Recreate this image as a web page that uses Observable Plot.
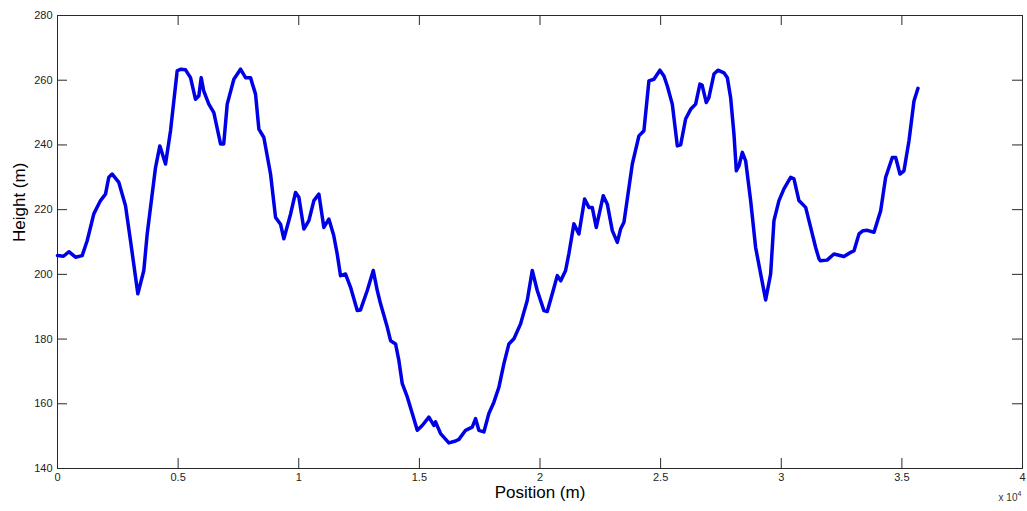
<!DOCTYPE html>
<html>
<head>
<meta charset="utf-8">
<script src="https://cdn.jsdelivr.net/npm/d3@7"></script>
<script src="https://cdn.jsdelivr.net/npm/@observablehq/plot@0.6"></script>
<style>
  html, body { margin: 0; padding: 0; background: #fff; }
  #chart { width: 1027px; height: 511px; }
</style>
</head>
<body>
<div id="chart"></div>
<script>
// Position along the track (m)
const position = [
  0, 250, 470, 746, 1023, 1230, 1505, 1783, 1990, 2127, 2266, 2543, 2819, 3026, 3330, 3578, 3718,
  4063, 4242, 4478, 4685, 4961, 5100, 5307, 5514, 5721, 5860, 5956, 6060, 6273, 6480, 6758, 6890,
  7035, 7310, 7587, 7794, 8000, 8209, 8347, 8554, 8831, 9038, 9245, 9383, 9660, 9867, 10005, 10212,
  10420, 10627, 10834, 11041, 11248, 11450, 11594, 11732, 11940, 12148, 12425, 12560, 12840, 13089,
  13255, 13391, 13668, 13806, 14013, 14150, 14291, 14499, 14706, 14913, 15120, 15394, 15601, 15670,
  15878, 16222, 16500, 16640, 16915, 17191, 17330, 17467, 17674, 17881, 18089, 18296, 18504, 18711,
  18920, 19195, 19471, 19679, 19886, 20163, 20300, 20510, 20717, 20860, 21061, 21200, 21406, 21613,
  21849, 22027, 22166, 22332, 22622, 22790, 22997, 23205, 23341, 23480, 23827, 24101, 24308, 24515,
  24723, 24971, 25137, 25277, 25484, 25692, 25830, 26036, 26244, 26451, 26629, 26720, 26893, 27000,
  27210, 27376, 27625, 27765, 27902, 28040, 28139, 28250, 28386, 28524, 28731, 28938, 29353, 29560,
  29698, 29905, 30111, 30389, 30527, 30733, 31012, 31219, 31426, 31564, 31630, 31900, 32185, 32600,
  32880, 33016, 33223, 33390, 33568, 33845, 34122, 34328, 34604, 34743, 34921, 35087, 35295, 35502,
  35668
];
// Height (m)
const height = [
  205.8, 205.6, 207.0, 205.3, 205.8, 210.4, 218.7, 222.8, 224.8, 230.0, 231.0, 228.4, 221.2, 210.4, 194.0, 201.2, 212.5,
  233.0, 239.7, 234.1, 244.4, 262.9, 263.4, 263.2, 260.8, 254.1, 255.2, 260.8, 256.7, 252.6, 250.0, 240.3, 240.3,
  252.6, 260.3, 263.4, 260.8, 260.8, 255.7, 244.9, 242.3, 231.0, 217.6, 215.5, 211.0, 218.6, 225.3, 223.8, 214.0,
  216.6, 222.8, 224.8, 214.5, 217.1, 212.0, 206.3, 199.6, 200.1, 196.0, 188.8, 189.0, 195.0, 201.2,
  195.0, 190.9, 183.7, 179.5, 178.5, 173.4, 166.2, 162.1, 157.0, 151.8, 153.3, 155.9, 153.3, 154.4,
  150.8, 147.9, 148.5, 149.0, 151.8, 152.8, 155.4, 151.8, 151.3, 157.0, 160.5, 165.1, 172.4, 178.5,
  180.1, 184.7, 191.9, 201.2, 195.0, 188.8, 188.5, 194.0, 199.6, 198.0, 201.2, 206.5, 215.6, 212.5,
  223.3, 220.7, 220.7, 214.5, 224.3, 221.7, 213.5, 209.9, 214.0, 216.1, 234.1, 242.8, 244.4, 259.8,
  260.3, 263.1, 261.3, 258.2, 252.6, 239.7, 240.0, 248.0, 251.0, 252.6, 258.8, 258.5, 253.1, 254.6,
  261.9, 263.1, 262.3, 260.8, 254.6, 243.3, 232.0, 233.6, 237.7, 235.1, 222.8, 208.3, 192.1, 200.1,
  216.6, 222.8, 226.4, 230.0, 229.5, 222.8, 220.7, 214.5, 208.3, 204.8, 204.2, 204.4, 206.3, 205.5,
  206.8, 207.3, 212.5, 213.5, 213.6, 213.0, 219.7, 230.0, 236.1, 236.1, 231.0, 232.0, 241.3, 253.6,
  257.5
];
const xTicks = [0, 5000, 10000, 15000, 20000, 25000, 30000, 35000, 40000];
const yTicks = [140, 160, 180, 200, 220, 240, 260, 280];
const xLabel = "Position (m)";
const yLabel = "Height (m)";
const exponentBase = "x 10";
const exponent = "4";

const data = position.map((p, i) => ({position: p, height: height[i]}));

const W = 1027, H = 511;
const mTop = 15, mBottom = 43, mLeft = 57, mRight = 5;
const innerW = W - mLeft - mRight, innerH = H - mTop - mBottom;
const tickLen = 10;
const axisColor = "#2a2a2a";

const chart = Plot.plot({
  width: W,
  height: H,
  marginTop: mTop,
  marginBottom: mBottom,
  marginLeft: mLeft,
  marginRight: mRight,
  style: {fontFamily: "'Liberation Sans', Arial, sans-serif", fontSize: "11px", color: "#222", background: "#fff"},
  x: {domain: [0, 40000]},
  y: {domain: [140, 280]},
  marks: [
    Plot.frame({stroke: axisColor, strokeWidth: 1}),
    // inward ticks on all four sides
    Plot.tickX(xTicks, {x: d => d, stroke: axisColor, insetTop: innerH - tickLen}),
    Plot.tickX(xTicks, {x: d => d, stroke: axisColor, insetBottom: innerH - tickLen}),
    Plot.tickY(yTicks, {y: d => d, stroke: axisColor, insetRight: innerW - tickLen}),
    Plot.tickY(yTicks, {y: d => d, stroke: axisColor, insetLeft: innerW - tickLen}),
    Plot.axisX(xTicks, {tickSize: 0, tickPadding: 5, tickFormat: d => String(d / 1e4), label: null, fill: "#222", fontSize: 11}),
    Plot.axisY(yTicks, {tickSize: 0, tickPadding: 5, label: null, fill: "#222", fontSize: 11}),
    Plot.line(data, {x: "position", y: "height", stroke: "#0000e6", strokeWidth: 3.5, strokeLinejoin: "round", strokeLinecap: "round"}),
    Plot.text([xLabel], {frameAnchor: "bottom", dy: 29, fontSize: 17, fill: "#000", text: d => d}),
    Plot.text([yLabel], {frameAnchor: "left", dx: -38, rotate: -90, fontSize: 17, fill: "#000", text: d => d}),
    Plot.text([exponentBase], {frameAnchor: "bottom-right", dx: -5, dy: 32, textAnchor: "end", fontSize: 10, fill: "#333", text: d => d}),
    Plot.text([exponent], {frameAnchor: "bottom-right", dx: -5, dy: 27, textAnchor: "start", fontSize: 7, fill: "#333", text: d => d})
  ]
});
document.getElementById("chart").appendChild(chart);
</script>
</body>
</html>
